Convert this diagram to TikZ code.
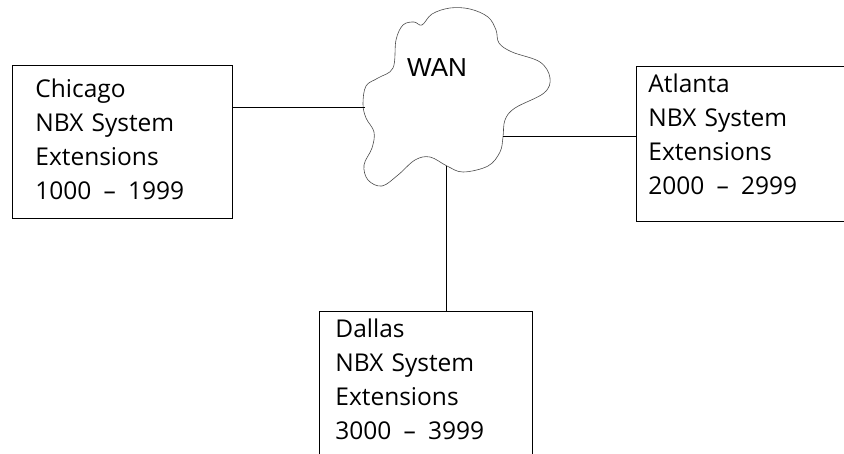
\documentclass[tikz,border=0pt]{standalone}
\usepackage{fontspec}
\setmainfont{Open Sans}
\newfontfamily\wanfont{Liberation Sans}
\begin{document}
\begin{tikzpicture}[x=1pt,y=-1pt,
        site/.style={draw,line width=0.8pt,anchor=north west,align=left,
            inner ysep=0pt,font=\fontsize{24.5}{34}\selectfont},
        link/.style={draw,line width=0.8pt},
        cloudline/.style={draw=black!70,line width=0.6pt}]
    \useasboundingbox (0,0) rectangle (844,453);
    \clip (0,0) rectangle (844,453);
    % the WAN cloud
    \draw[cloudline] plot[smooth cycle,tension=0.6] coordinates {
        (366,86) (378,78) (393,68) (396,40) (403,25) (414,22) (422,25)
        (432,14) (450,8) (470,9) (488,17) (496,30) (499,43) (512,52)
        (540,62) (550,78) (544,93) (515,108) (505,120) (503,137) (500,152)
        (488,166) (463,172) (447,166) (430,157) (415,160) (398,175)
        (382,186) (368,180) (364,165) (372,148) (374,132) (366,118) (363,104)};
    \node[font=\wanfont\fontsize{26}{30}\selectfont,anchor=base west,inner sep=0pt] (wan) at (407,76) {WAN};
    \coordinate (wanW) at (365,107);
    \coordinate (wanE) at (503,136);
    \coordinate (wanS) at (446,166);
    % the three sites
    \node[site,inner xsep=23pt,text width=174pt,text height=32pt,text depth=121pt] (chicago) at (12,65)
        {Chicago\\NBX System\\Extensions\\1000 \,–\, 1999};
    \node[site,inner xsep=12pt,text width=196pt,text height=26pt,text depth=129pt] (atlanta) at (636,66)
        {Atlanta\\NBX System\\Extensions\\2000 \,–\, 2999};
    \node[site,inner xsep=16pt,text width=181pt,text height=26pt,text depth=150pt] (dallas) at (319,311)
        {Dallas\\NBX System\\Extensions\\3000 \,–\, 3999};
    % links to the WAN
    \draw[link] (wanW) -- (wanW -| chicago.east);
    \draw[link] (wanE) -- (wanE -| atlanta.west);
    \draw[link] (wanS) -- (wanS |- dallas.north);
\end{tikzpicture}
\end{document}
